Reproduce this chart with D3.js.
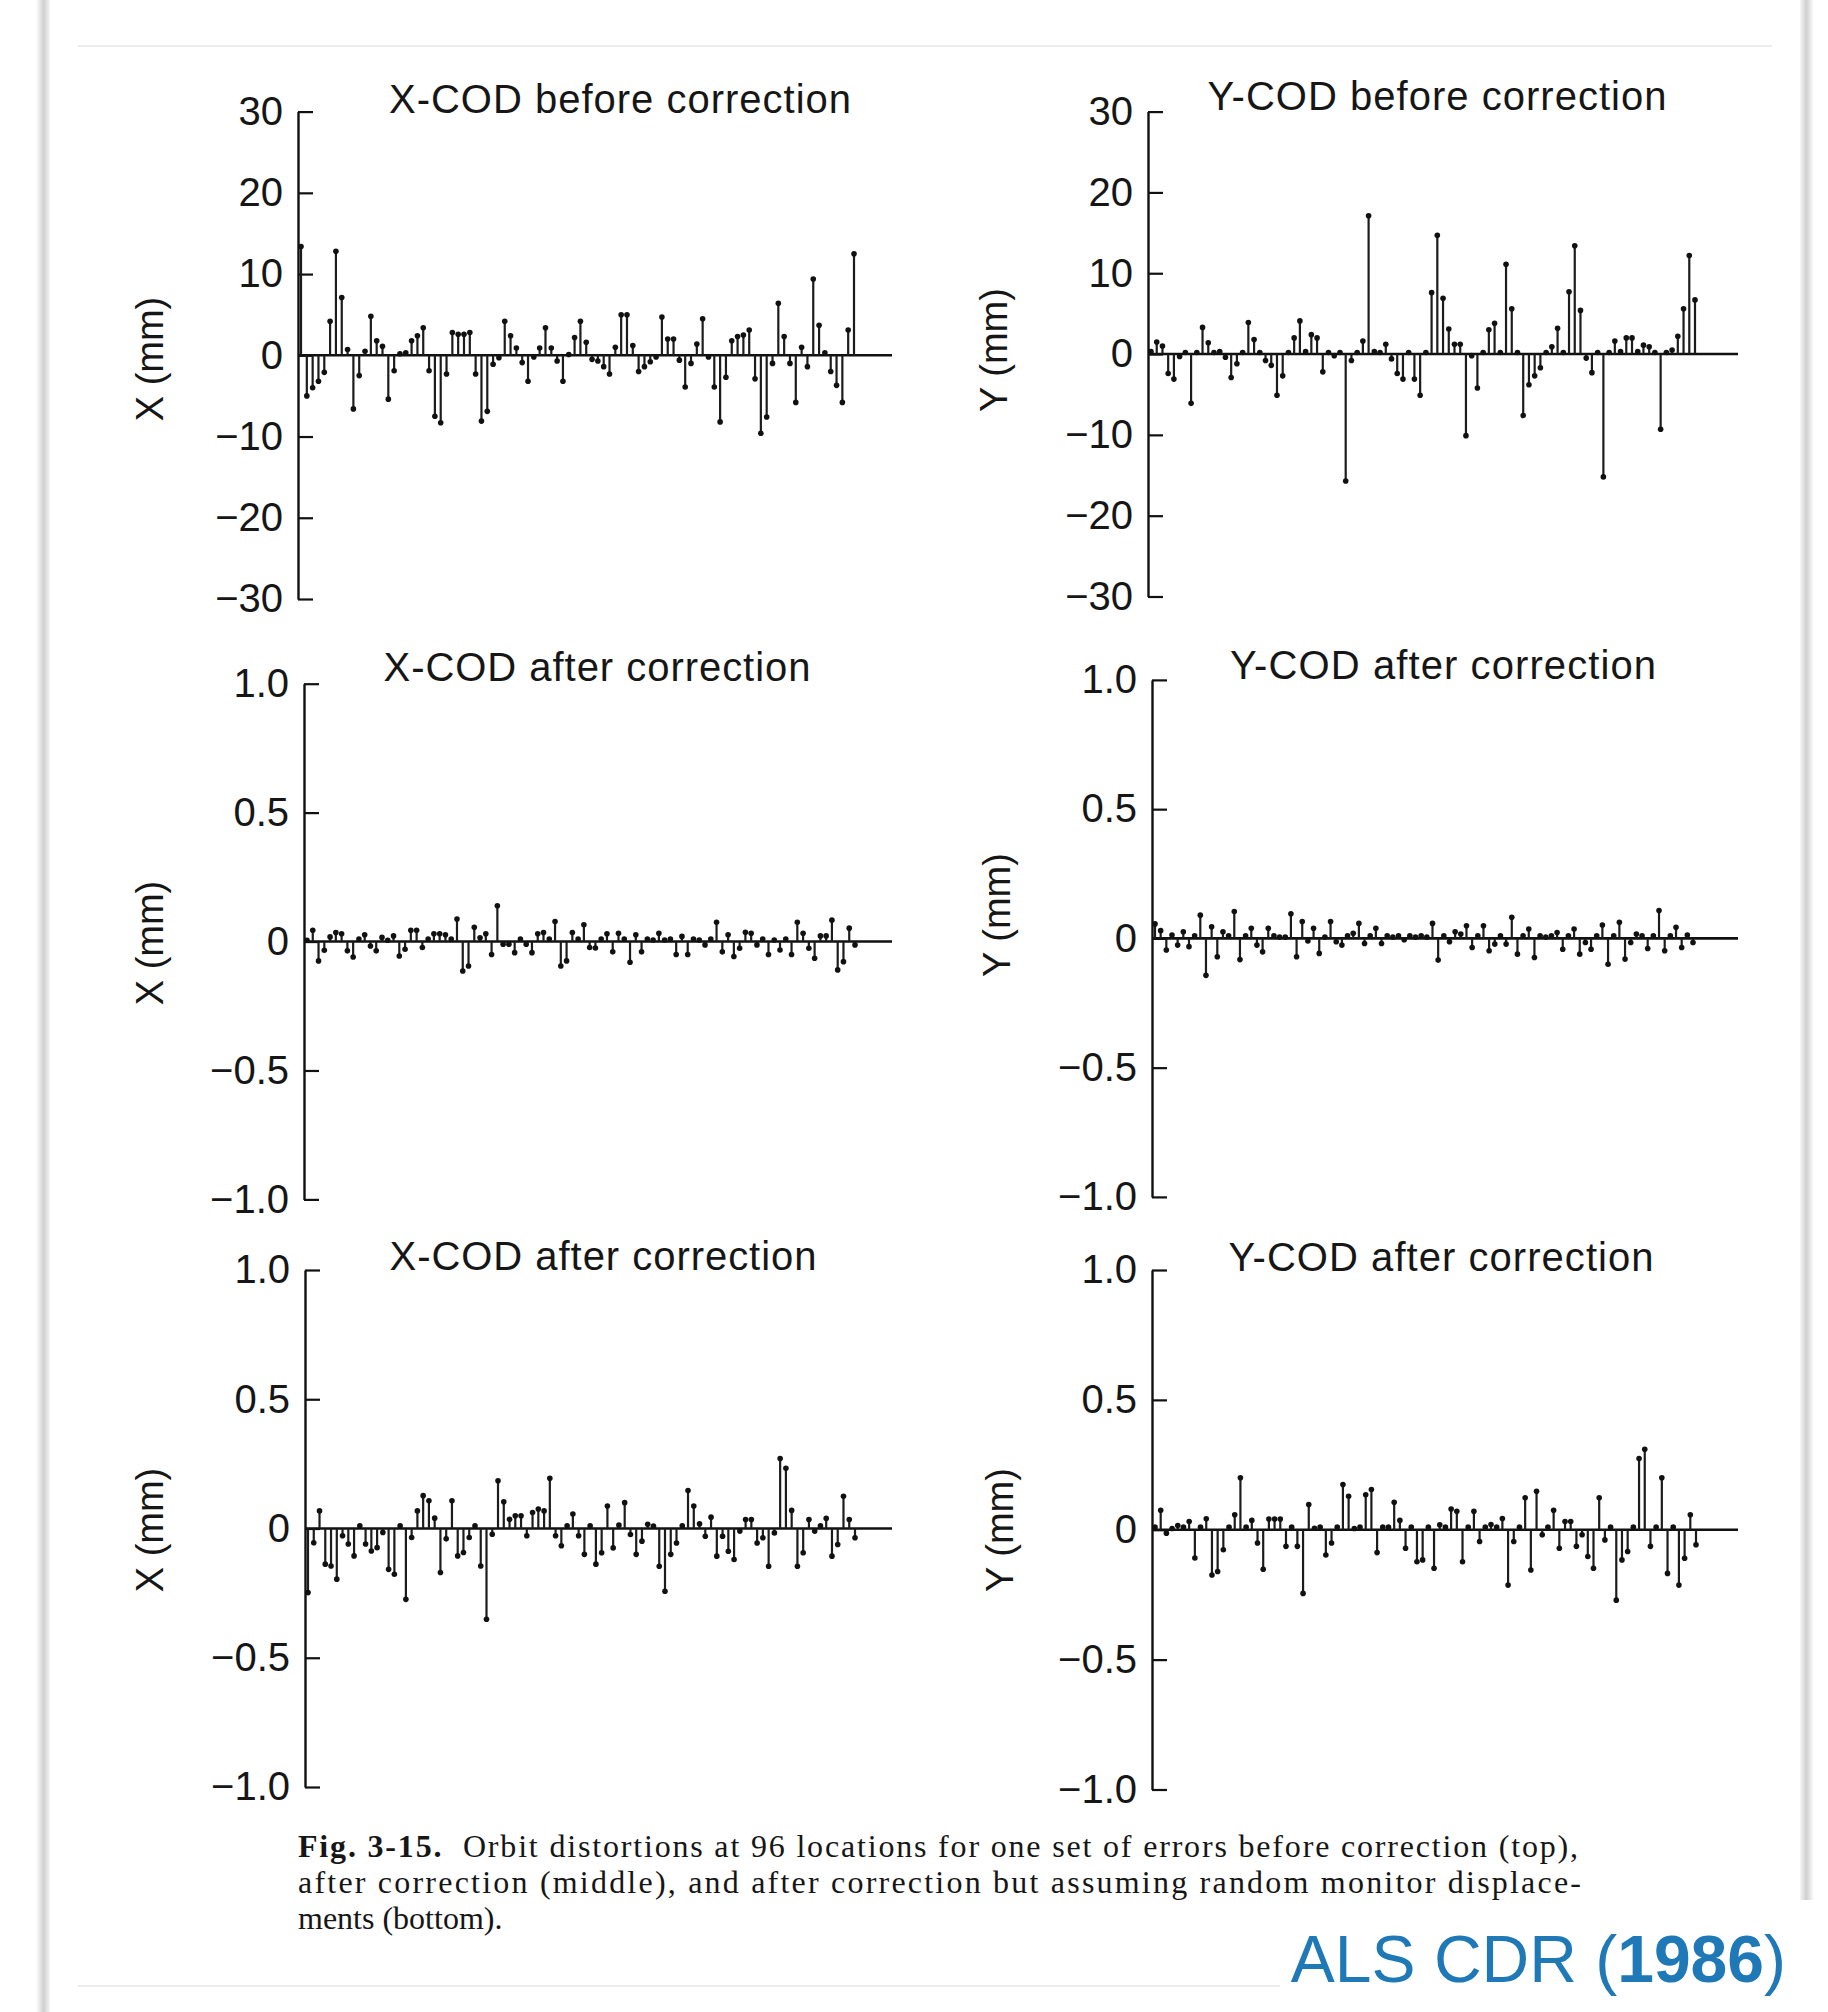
<!DOCTYPE html>
<html>

<head>
  <meta charset="utf-8">
  <script src="https://d3js.org/d3.v7.min.js"></script>

  <style>
    body { margin: 0; background: #ffffff; }
    text { font-family: "Liberation Sans", Arial, sans-serif; fill: #161616; }
    .caption text { font-family: "Liberation Serif", "Times New Roman", serif; }
  </style>
</head>

<body>

  <div id="svgcontainer"></div>

  <script>

    /* data: orbit distortion at 96 locations (mm) */

    // top left, X-COD before correction
    var xBefore = [13.4, -5.0, -4.0, -3.2, -2.1, 4.2, 12.8, 7.1, 0.7, -6.6,
      -2.5, 0.5, 4.8, 1.8, 1.1, -5.4, -1.9, 0.2, 0.3, 1.8,
      2.4, 3.4, -1.9, -7.5, -8.3, -2.3, 2.8, 2.6, 2.6, 2.8,
      -2.3, -8.1, -6.9, -1.1, -0.3, 4.2, 2.4, 0.9, -0.9, -3.2,
      -0.2, 0.9, 3.4, 0.9, -0.7, -3.2, 0.1, 2.2, 4.2, 1.6,
      -0.5, -0.7, -1.4, -2.3, 1.0, 5.0, 5.0, 1.2, -2.0, -1.4,
      -0.8, -0.2, 4.7, 2.0, 2.0, -0.6, -3.9, -1.0, 1.4, 4.5,
      -0.2, -3.9, -8.2, -2.7, 1.8, 2.3, 2.5, 3.1, -2.9, -9.6,
      -7.6, -1.0, 6.4, 2.3, -1.0, -5.8, 1.0, -1.4, 9.4, 3.7,
      0.3, -2.0, -3.7, -5.8, 3.1, 12.5];

    // top right, Y-COD before correction
    var yBefore = [0.3, 1.5, 1.0, -2.4, -3.1, -0.3, 0.2, -6.1, 0.2, 3.3,
      1.4, 0.2, 0.3, -0.4, -2.9, -1.2, 0.2, 3.9, 1.8, 0.2,
      -0.8, -1.4, -5.1, -2.7, 0.2, 2.0, 4.1, 0.3, 2.4, 2.0,
      -2.2, 0.2, -0.2, 0.2, -15.7, -0.8, 0.2, 1.6, 17.1, 0.3,
      0.2, 1.2, -0.6, -2.4, -3.1, 0.2, -3.1, -5.1, 0.2, 7.6,
      14.7, 6.9, 3.1, 1.2, 1.2, -10.1, -0.2, -4.2, 0.2, 3.0,
      3.8, 0.2, 11.1, 5.6, 0.2, -7.6, -3.8, -2.7, -1.7, 0.2,
      0.9, 3.2, 0.2, 7.7, 13.4, 5.4, -0.5, -2.3, 0.2, -15.2,
      0.2, 1.6, 0.3, 2.0, 2.0, 0.3, 1.1, 0.9, 0.2, -9.3,
      0.2, 0.5, 2.2, 5.6, 12.2, 6.7];

    // middle left, X-COD after correction
    var xAfter = [0.005, 0.044, -0.075, -0.034, 0.018, 0.035, 0.03, -0.036, -0.06, 0.01,
      0.026, -0.017, -0.036, 0.016, 0.005, 0.022, -0.056, -0.03, 0.044, 0.044,
      -0.023, 0.01, 0.03, 0.03, 0.026, 0.01, 0.087, -0.114, -0.095, 0.055,
      0.015, 0.03, -0.05, 0.139, -0.01, -0.01, -0.043, 0.01, -0.01, -0.043,
      0.03, 0.035, 0.01, 0.078, -0.095, -0.075, 0.035, 0.01, 0.065, -0.023,
      -0.025, 0.01, 0.03, -0.04, 0.032, 0.01, -0.08, 0.026, -0.04, 0.01,
      0.006, 0.032, 0.006, 0.01, -0.05, 0.02, -0.05, 0.01, 0.006, -0.013,
      0.01, 0.075, -0.04, 0.026, -0.058, -0.026, 0.036, 0.032, -0.013, 0.01,
      -0.05, 0.006, -0.033, 0.01, -0.05, 0.075, 0.032, -0.026, -0.065, 0.022,
      0.022, 0.083, -0.11, -0.078, 0.052, -0.013];

    // middle right, Y-COD after correction
    var yAfter = [0.056, 0.03, -0.045, 0.013, -0.026, 0.026, -0.032, 0.01, 0.09, -0.143,
      0.045, -0.071, 0.026, 0.01, 0.104, -0.082, 0.01, 0.039, -0.026, -0.052,
      0.039, 0.01, 0.005, 0.005, 0.095, -0.071, 0.065, -0.01, 0.039, -0.058,
      0.005, 0.065, -0.013, -0.026, 0.01, 0.02, 0.058, -0.02, 0.01, 0.039,
      -0.02, 0.01, 0.005, 0.01, -0.005, 0.01, 0.005, 0.01, 0.005, 0.058,
      -0.084, 0.01, -0.013, 0.026, 0.017, 0.049, -0.035, 0.01, 0.049, -0.048,
      -0.022, 0.01, -0.022, 0.082, -0.061, 0.01, 0.036, -0.074, 0.01, 0.005,
      0.01, 0.023, -0.042, 0.01, 0.036, -0.061, -0.016, -0.042, 0.01, 0.052,
      -0.1, 0.01, 0.062, -0.08, -0.016, 0.017, 0.01, -0.039, 0.01, 0.108,
      -0.048, 0.01, 0.043, -0.035, 0.013, -0.016];

    // bottom left, X-COD after correction with random monitor displacements
    var xAfterDisp = [-0.248, -0.055, 0.068, -0.138, -0.145, -0.196, -0.028, -0.06, -0.106, 0.01,
      -0.06, -0.087, -0.074, -0.015, -0.158, -0.177, 0.01, -0.274, -0.035, 0.068,
      0.127, 0.107, 0.04, -0.17, -0.04, 0.107, -0.106, -0.093, -0.035, 0.01,
      -0.145, -0.351, -0.022, 0.185, 0.103, 0.036, 0.049, 0.049, -0.028, 0.062,
      0.075, 0.068, 0.194, -0.028, -0.067, 0.01, 0.056, -0.028, -0.1, 0.01,
      -0.138, -0.094, 0.087, -0.075, 0.013, 0.1, -0.023, -0.1, -0.049, 0.016,
      0.009, -0.146, -0.243, -0.1, -0.056, 0.01, 0.147, 0.087, 0.018, -0.03,
      0.044, -0.107, -0.03, -0.088, -0.12, -0.01, 0.035, 0.035, -0.056, -0.036,
      -0.146, -0.017, 0.271, 0.233, 0.07, -0.146, -0.094, 0.035, -0.01, 0.01,
      0.039, -0.107, -0.062, 0.125, 0.035, -0.036];

    // bottom right, Y-COD after correction with random monitor displacements
    var yAfterDisp = [0.01, 0.075, -0.013, 0.005, 0.016, 0.01, 0.032, -0.109, 0.01, 0.042,
      -0.174, -0.161, -0.077, 0.01, 0.058, 0.2, 0.01, 0.036, -0.051, -0.152,
      0.041, 0.041, 0.041, -0.064, 0.01, -0.064, -0.245, 0.097, 0.006, 0.01,
      -0.097, -0.051, 0.01, 0.174, 0.129, 0.005, 0.01, 0.135, 0.155, -0.088,
      0.01, 0.01, 0.106, 0.036, -0.071, 0.01, -0.123, -0.116, 0.01, -0.148,
      0.019, 0.01, 0.08, 0.071, -0.123, 0.01, 0.071, -0.045, 0.01, 0.02,
      0.01, 0.043, -0.213, -0.045, 0.01, 0.123, -0.155, 0.148, -0.019, 0.01,
      0.075, -0.071, 0.032, 0.032, -0.064, -0.019, -0.103, -0.148, 0.123, -0.039,
      0.01, -0.271, -0.116, -0.084, 0.01, 0.274, 0.31, -0.064, 0.01, 0.2,
      -0.168, 0.01, -0.213, -0.11, 0.058, -0.058];

    // tick labels
    var ticksBefore = [30, 20, 10, 0, -10, -20, -30];
    var ticksAfter = [1.0, 0.5, 0, -0.5, -1.0];

    var titles = ["X-COD before correction", "Y-COD before correction",
      "X-COD after correction", "Y-COD after correction",
      "X-COD after correction", "Y-COD after correction"];
    var yLabels = ["X (mm)", "Y (mm)", "X (mm)", "Y (mm)", "X (mm)", "Y (mm)"];

    var captionLines = [
      ["Fig. 3-15.", "  Orbit distortions at 96 locations for one set of errors before correction (top),"],
      ["", "after correction (middle), and after correction but assuming random monitor displace-"],
      ["", "ments (bottom)."]
    ];


    /* page set up */
    var W = 1828, H = 2012;

    var svg = d3.select("#svgcontainer")
      .append("svg")
      .attr("width", W)
      .attr("height", H);

    svg.append("rect").attr("width", W).attr("height", H).attr("fill", "#ffffff");

    // soft edges of the scanned page
    var defs = svg.append("defs");
    var grad = defs.append("linearGradient").attr("id", "edge");
    grad.append("stop").attr("offset", "0%").attr("stop-color", "#ffffff");
    grad.append("stop").attr("offset", "55%").attr("stop-color", "#cfcfcf");
    grad.append("stop").attr("offset", "100%").attr("stop-color", "#f6f6f6");

    svg.append("rect").attr("x", 36).attr("y", 0).attr("width", 14).attr("height", H)
      .attr("fill", "url(#edge)");
    svg.append("rect").attr("x", 1800).attr("y", 0).attr("width", 14).attr("height", 1900)
      .attr("fill", "url(#edge)").attr("transform", "translate(3614,0) scale(-1,1)");
    svg.append("line").attr("x1", 78).attr("x2", 1772).attr("y1", 46).attr("y2", 46)
      .attr("stroke", "#e6e6e6").attr("stroke-width", 1.5);
    svg.append("line").attr("x1", 78).attr("x2", 1280).attr("y1", 1986).attr("y2", 1986)
      .attr("stroke", "#e6e6e6").attr("stroke-width", 1.5);


    /* panel layout */
    var panels = [
      { values: xBefore, ticks: ticksBefore, axisX: 298, yTop: 111.6, yBot: 599, lastX: 854, endX: 892,
        titleX: 620, titleY: 113, titleW: 462, labelX: 150, labelY: 359 },
      { values: yBefore, ticks: ticksBefore, axisX: 1148, yTop: 111.6, yBot: 596.5, lastX: 1695, endX: 1738,
        titleX: 1437, titleY: 110, titleW: 459, labelX: 994, labelY: 350 },
      { values: xAfter, ticks: ticksAfter, axisX: 304, yTop: 683.7, yBot: 1199.4, lastX: 855, endX: 892,
        titleX: 597, titleY: 681, titleW: 427, labelX: 150, labelY: 943 },
      { values: yAfter, ticks: ticksAfter, axisX: 1152, yTop: 679.9, yBot: 1196.9, lastX: 1693, endX: 1738,
        titleX: 1443, titleY: 679, titleW: 426, labelX: 997, labelY: 915 },
      { values: xAfterDisp, ticks: ticksAfter, axisX: 305, yTop: 1270, yBot: 1787, lastX: 855, endX: 892,
        titleX: 603, titleY: 1270, titleW: 427, labelX: 150, labelY: 1530 },
      { values: yAfterDisp, ticks: ticksAfter, axisX: 1152, yTop: 1270, yBot: 1789.5, lastX: 1696, endX: 1738,
        titleX: 1441, titleY: 1271, titleW: 425, labelX: 1000, labelY: 1530 }
    ];


    /* draw one stem panel */
    function drawPanel(p, i) {
      var g = svg.append("g");
      var top = d3.max(p.ticks), bot = d3.min(p.ticks);

      var y = d3.scaleLinear().domain([bot, top]).range([p.yBot, p.yTop]);
      var x = d3.scaleLinear().domain([0, p.values.length - 1]).range([p.axisX + 3, p.lastX]);

      var fmt = top > 5 ? d3.format("d") : function (d) { return d === 0 ? "0" : d3.format(".1f")(d); };

      // axis with ticks pointing into the plot
      var axis = g.append("g")
        .attr("transform", "translate(" + p.axisX + ",0)")
        .call(d3.axisLeft(y).tickValues(p.ticks).tickFormat(fmt)
          .tickSizeInner(-15).tickSizeOuter(0).tickPadding(15));
      axis.select(".domain").attr("stroke", "#111").attr("stroke-width", 2.4);
      axis.selectAll(".tick line").attr("stroke", "#111").attr("stroke-width", 2.2);
      axis.selectAll(".tick text")
        .style("font-family", "'Liberation Sans', Arial, sans-serif")
        .style("font-size", "40px")
        .attr("fill", "#161616");

      // zero line
      g.append("line")
        .attr("x1", p.axisX).attr("x2", p.endX)
        .attr("y1", y(0)).attr("y2", y(0))
        .attr("stroke", "#111").attr("stroke-width", 2.6);

      // stems
      g.selectAll("line.stem")
        .data(p.values)
        .enter()
        .append("line")
        .attr("class", "stem")
        .attr("x1", function (d, j) { return x(j); })
        .attr("x2", function (d, j) { return x(j); })
        .attr("y1", y(0))
        .attr("y2", function (d) { return y(d); })
        .attr("stroke", "#1c1c1c")
        .attr("stroke-width", 2.2);

      // dot at the tip of each stem
      g.selectAll("circle.tip")
        .data(p.values)
        .enter()
        .append("circle")
        .attr("class", "tip")
        .attr("cx", function (d, j) { return x(j); })
        .attr("cy", function (d) { return y(d); })
        .attr("r", 2.8)
        .attr("fill", "#111");

      // panel title
      g.append("text")
        .attr("x", p.titleX).attr("y", p.titleY)
        .attr("text-anchor", "middle")
        .attr("textLength", p.titleW)
        .attr("lengthAdjust", "spacing")
        .style("font-size", "40px")
        .text(titles[i]);

      // y label, rotated
      g.append("text")
        .attr("transform", "translate(" + p.labelX + "," + p.labelY + ") rotate(-90)")
        .attr("text-anchor", "middle")
        .attr("dy", "0.35em")
        .style("font-size", "38px")
        .text(yLabels[i]);
    }

    panels.forEach(drawPanel);


    /* caption */
    var cap = svg.append("g").attr("class", "caption");
    var capY = [1857, 1893, 1929];
    var capW = [1280, 1283, null];

    captionLines.forEach(function (line, k) {
      var t = cap.append("text")
        .attr("x", 298).attr("y", capY[k])
        .style("font-size", "32px")
        .attr("fill", "#1e1e1e");
      if (capW[k]) t.attr("textLength", capW[k]).attr("lengthAdjust", "spacing");
      if (line[0]) t.append("tspan").style("font-weight", "bold").text(line[0]);
      t.append("tspan").style("white-space", "pre").text(line[1]);
    });


    /* watermark */
    var wm = svg.append("text")
      .attr("x", 1786).attr("y", 1982)
      .attr("text-anchor", "end")
      .style("font-size", "66px")
      .style("fill", "#1f79b6");
    wm.append("tspan").text("ALS CDR (");
    wm.append("tspan").style("font-weight", "bold").text("1986");
    wm.append("tspan").text(")");

  </script>
</body>

</html>
